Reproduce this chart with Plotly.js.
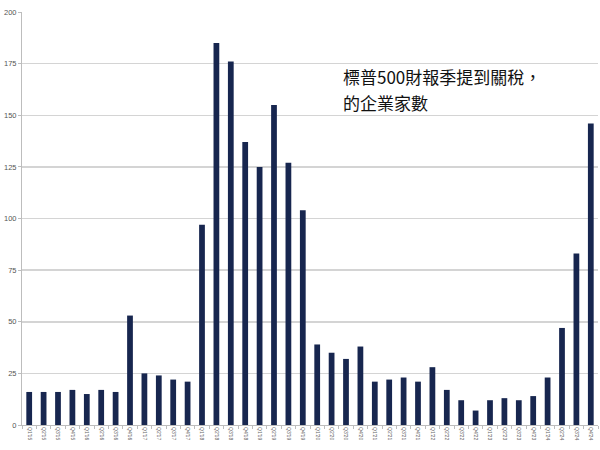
<!DOCTYPE html>
<html>
<head>
<meta charset="utf-8">
<script src="https://cdn.plot.ly/plotly-3.0.1.min.js"></script>
<style>
  html, body { margin: 0; padding: 0; background: #ffffff; }
  #grafica { width: 600px; height: 450px; }
</style>
</head>
<body>
<div id="grafica"></div>
<script>
// Trimestres Q1'15 .. Q4'24
const trimestres = [
  "Q1'15", "Q2'15", "Q3'15", "Q4'15",
  "Q1'16", "Q2'16", "Q3'16", "Q4'16",
  "Q1'17", "Q2'17", "Q3'17", "Q4'17",
  "Q1'18", "Q2'18", "Q3'18", "Q4'18",
  "Q1'19", "Q2'19", "Q3'19", "Q4'19",
  "Q1'20", "Q2'20", "Q3'20", "Q4'20",
  "Q1'21", "Q2'21", "Q3'21", "Q4'21",
  "Q1'22", "Q2'22", "Q3'22", "Q4'22",
  "Q1'23", "Q2'23", "Q3'23", "Q4'23",
  "Q1'24", "Q2'24", "Q3'24", "Q4'24"
];

// Empresas que mencionan aranceles
const empresas = [
  16, 16, 16, 17,
  15, 17, 16, 53,
  25, 24, 22, 21,
  97, 185, 176, 137,
  125, 155, 127, 104,
  39, 35, 32, 38,
  21, 22, 23, 21,
  28, 17, 12, 7,
  12, 13, 12, 14,
  23, 47, 83, 146
];

const yTicks = [0, 25, 50, 75, 100, 125, 150, 175, 200];

const lineasTexto = ['標普500財報季提到關稅，', '的企業家數'];

const trace = {
  x: trimestres,
  y: empresas,
  type: 'bar',
  marker: { color: '#17264f' },
  hoverinfo: 'x+y'
};

// Una anotacion por linea para controlar el interlineado
const anotaciones = lineasTexto.map((t, i) => ({
  xref: 'paper', yref: 'paper',
  x: 0.553, y: [0.845, 0.782][i],
  xanchor: 'left', yanchor: 'middle',
  align: 'left',
  showarrow: false,
  text: t,
  font: { family: "'Noto Sans CJK TC', sans-serif", size: 17, color: '#111111' }
}));

const layout = {
  width: 600,
  height: 450,
  paper_bgcolor: '#ffffff',
  plot_bgcolor: '#ffffff',
  margin: { t: 12, r: 2, b: 25, l: 22 },
  bargap: 0.6,
  showlegend: false,
  font: { family: "'Liberation Sans', Arial, sans-serif", color: '#555555' },
  xaxis: {
    type: 'category',
    tickangle: 90,
    tickfont: { size: 5, color: '#666666' },
    showgrid: false,
    showline: true,
    linecolor: '#bdbdbd',
    linewidth: 1,
    ticks: 'outside',
    tickson: 'boundaries',
    ticklen: 3,
    tickcolor: '#bdbdbd',
    zeroline: false
  },
  yaxis: {
    range: [0, 200],
    tickvals: yTicks,
    ticktext: yTicks.map(String),
    tickfont: { size: 7.5, color: '#555555' },
    showgrid: true,
    gridcolor: '#d4d4d4',
    gridwidth: 1.5,
    showline: true,
    linecolor: '#bdbdbd',
    ticks: 'outside',
    ticklen: 3,
    tickcolor: '#bdbdbd',
    zeroline: false
  },
  annotations: anotaciones
};

Plotly.newPlot('grafica', [trace], layout, { displayModeBar: false, staticPlot: true });
</script>
</body>
</html>
